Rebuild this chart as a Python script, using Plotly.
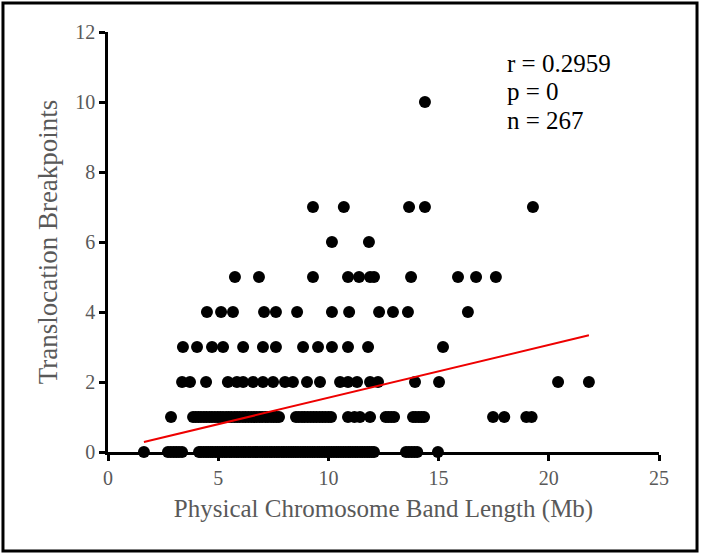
import plotly.graph_objects as go

# Band lengths (Mb) grouped by number of translocation breakpoints
bp0_lengths = [1.63, 2.72, 2.85, 2.98, 3.1, 3.22, 3.36,
               4.13, 4.22, 4.34, 4.45, 4.55, 4.66, 4.75, 4.87, 4.97, 5.08, 5.19, 5.3, 5.39, 5.51,
               5.6, 5.72, 5.83, 5.92, 6.04, 6.15, 6.25, 6.37, 6.46, 6.58, 6.69, 6.78, 6.9, 7.01,
               7.12, 7.22, 7.34, 7.43, 7.55, 7.66, 7.76, 7.88, 7.98, 8.09, 8.2, 8.31, 8.41, 8.52,
               8.62, 8.74, 8.85, 8.95, 9.06, 9.17, 9.28, 9.38, 9.5, 9.6, 9.71, 9.82, 9.93, 10.03,
               10.14, 10.25, 10.36, 10.46, 10.57, 10.68, 10.79, 10.9, 11.0, 11.11, 11.22, 11.32,
               11.44, 11.54, 11.65, 11.76, 11.86, 11.97, 12.07,
               13.52, 13.65, 13.78, 13.9, 14.03, 14.97]
bp1_lengths = [2.86, 3.86, 3.98, 4.1, 4.22, 4.35, 4.47, 4.6, 4.72, 4.85, 4.98, 5.1, 5.22, 5.36,
               5.48, 5.6, 5.74, 5.86, 5.98, 6.12, 6.24, 6.37, 6.5, 6.62, 6.75, 6.88, 7.0, 7.14,
               7.26, 7.4, 7.52, 7.64, 7.76, 8.53, 8.66, 8.8, 8.92, 9.06, 9.2, 9.33, 9.46, 9.6,
               9.73, 9.86, 10.0, 10.12, 10.89, 11.18, 11.43, 11.89, 12.6, 12.72, 12.85, 12.98,
               13.84, 13.96, 14.1, 14.22, 14.34, 17.47, 17.98, 18.98, 19.22]
bp2_lengths = [3.36, 3.72, 4.45, 5.44, 5.85, 6.13, 6.58, 7.03, 7.49, 8.03, 8.39, 9.03, 9.62,
               10.53, 10.89, 11.3, 11.89, 12.25, 13.93, 15.02, 20.42, 21.82]
bp3_lengths = [3.4, 4.04, 4.72, 5.22, 6.13, 7.03, 7.62, 8.85, 9.53, 10.16, 10.89, 11.8, 15.2]
bp4_lengths = [4.49, 5.13, 5.67, 7.08, 7.62, 8.58, 10.16, 10.94, 12.3, 12.93, 13.61, 16.33]
bp5_lengths = [5.76, 6.85, 9.3, 10.89, 11.39, 11.89, 12.07, 13.75, 15.88, 16.7, 17.6]
bp6_lengths = [10.16, 11.84]
bp7_lengths = [9.3, 10.7, 13.66, 14.38, 19.28]
bp10_lengths = [14.38]

groups = [(0, bp0_lengths), (1, bp1_lengths), (2, bp2_lengths), (3, bp3_lengths),
          (4, bp4_lengths), (5, bp5_lengths), (6, bp6_lengths), (7, bp7_lengths),
          (10, bp10_lengths)]

# Linear trend
trend_slope = 0.151
trend_intercept = 0.04

stats_text = ["r = 0.2959", "p = 0", "n = 267"]

x_vals, y_vals = [], []
for bp, lens in groups:
    x_vals += lens
    y_vals += [bp] * len(lens)

x_min, x_max = min(x_vals), max(x_vals)

fig = go.Figure()
fig.add_trace(go.Scatter(
    x=x_vals, y=y_vals, mode="markers",
    marker=dict(color="black", size=12, line=dict(width=0)),
    cliponaxis=False, showlegend=False))
fig.add_trace(go.Scatter(
    x=[x_min, x_max],
    y=[trend_intercept + trend_slope * x_min, trend_intercept + trend_slope * x_max],
    mode="lines", line=dict(color="#ee0000", width=2),
    cliponaxis=False, showlegend=False))

serif = "Liberation Serif, Times New Roman, serif"
fig.update_layout(
    width=702, height=558,
    margin=dict(l=108, r=43, t=32, b=106),
    paper_bgcolor="white", plot_bgcolor="white",
    font=dict(family=serif, color="#595959"),
    xaxis=dict(range=[0, 25], dtick=5, showgrid=False, zeroline=False,
               showline=True, linecolor="black", linewidth=2.5,
               ticks="outside", ticklen=6, tickwidth=2.5, tickcolor="black",
               tickfont=dict(size=20, family=serif, color="#595959"),
               title=dict(text="Physical Chromosome Band Length (Mb)",
                          font=dict(size=25, family=serif, color="#595959"), standoff=12),
               layer="below traces"),
    yaxis=dict(range=[0, 12], dtick=2, showgrid=False, zeroline=False,
               showline=True, linecolor="black", linewidth=2.5,
               ticks="outside", ticklen=6, tickwidth=2.5, tickcolor="black",
               tickfont=dict(size=20, family=serif, color="#595959"),
               title=dict(text="Translocation Breakpoints",
                          font=dict(size=27, family=serif, color="#595959"), standoff=10),
               layer="below traces"),
    shapes=[dict(type="rect", xref="paper", yref="paper",
                 x0=-0.1906, x1=1.069, y0=-0.2357, y1=1.069,
                 line=dict(color="black", width=3))],
)

ys = [0.926, 0.858, 0.79]
for txt, yy in zip(stats_text, ys):
    fig.add_annotation(text=txt, xref="paper", yref="paper", x=0.7205, y=yy,
                       xanchor="left", yanchor="middle", showarrow=False,
                       font=dict(size=25, family=serif, color="black"))

fig.write_html("out.html", config={"displayModeBar": False},
               post_script="document.body.style.margin='0';document.body.style.padding='0';")
